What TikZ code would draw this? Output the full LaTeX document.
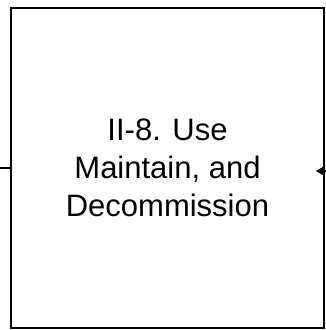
\documentclass[tikz,border=0pt]{standalone}
\usepackage{fontspec}
\setmainfont{Liberation Sans}
\usetikzlibrary{arrows.meta}
\begin{document}
\begin{tikzpicture}[x=1pt,y=1pt,
  procbox/.style={draw=black, line width=1.6pt, minimum width=313pt, minimum height=320pt, inner sep=0pt, align=center, font=\fontsize{31}{38}\selectfont},
  conn/.style={draw=black, line width=1.6pt},
  arr/.style={conn, -{Triangle[length=9pt,width=10pt]}}]
\useasboundingbox (0,0) rectangle (325,330);
\node[procbox] (box) at (167.5,162) {II-8. Use\\Maintain, and\\Decommission};
\coordinate (inL) at (0,162);
\coordinate (inR) at (326,159);
\draw[conn] (inL) -- (box.west);
\draw[arr, shorten >=-9pt] (inR) -- ([yshift=-3pt]box.east);
\end{tikzpicture}
\end{document}
